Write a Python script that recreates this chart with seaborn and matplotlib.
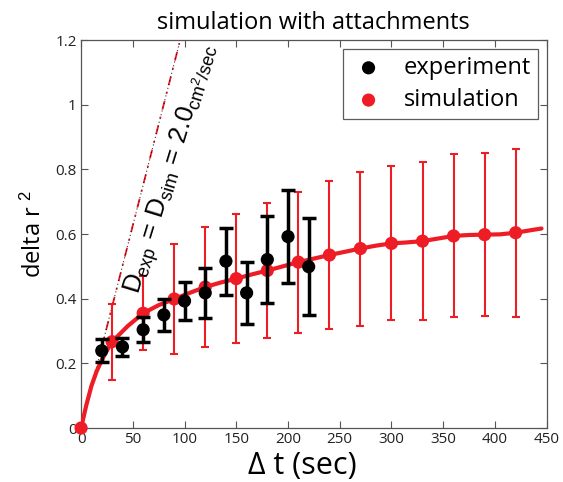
import numpy as np
import pandas as pd
import matplotlib
matplotlib.use("Agg")
import matplotlib.pyplot as plt
import seaborn as sns

# experiment
exp_t = [20, 40, 60, 80, 100, 120, 140, 160, 180, 200, 220]
exp_y = [0.239, 0.251, 0.304, 0.350, 0.393, 0.418, 0.516, 0.418, 0.521, 0.592, 0.499]
exp_err = [0.035, 0.028, 0.039, 0.050, 0.058, 0.077, 0.104, 0.096, 0.135, 0.145, 0.149]

# simulation markers
sim_t = [0, 30, 60, 90, 120, 150, 180, 210, 240, 270, 300, 330, 360, 390, 420]
sim_y = [0.0, 0.267, 0.355, 0.399, 0.436, 0.462, 0.487, 0.513, 0.535, 0.555, 0.571, 0.578, 0.594, 0.598, 0.604]
sim_err = [0.0, 0.117, 0.115, 0.171, 0.185, 0.199, 0.208, 0.218, 0.229, 0.238, 0.238, 0.245, 0.252, 0.253, 0.260]

# simulation curve
curve_t = [0, 5, 10, 15, 20, 25, 30, 45, 60, 75, 90, 105, 120, 135, 150, 165, 180, 195, 210,
           225, 240, 255, 270, 285, 300, 315, 330, 345, 360, 375, 390, 405, 420, 435, 445]
curve_y = [0.0, 0.07, 0.13, 0.175, 0.21, 0.24, 0.267, 0.315, 0.355, 0.38, 0.399, 0.418, 0.436,
           0.45, 0.462, 0.475, 0.487, 0.50, 0.513, 0.524, 0.535, 0.545, 0.555, 0.564, 0.571,
           0.574, 0.578, 0.586, 0.594, 0.597, 0.598, 0.599, 0.604, 0.612, 0.617]

# reference diffusion line
ref_t = [0, 95]
ref_y = [0.0, 1.19]

x_ticks = [0, 50, 100, 150, 200, 250, 300, 350, 400, 450]
y_ticks = [0, 0.2, 0.4, 0.6, 0.8, 1.0, 1.2]
y_ticklabels = ["0", "0.2", "0.4", "0.6", "0.8", "1", "1.2"]

sns.set_theme(style="white")
plt.rcParams['font.family'] = ['Open Sans', 'DejaVu Sans']
plt.rcParams['mathtext.fontset'] = 'custom'
plt.rcParams['mathtext.rm'] = 'Liberation Sans'
plt.rcParams['mathtext.it'] = 'Liberation Sans'
plt.rcParams['mathtext.sf'] = 'Liberation Sans'
plt.rcParams['text.color'] = 'black'
plt.rcParams['axes.labelcolor'] = 'black'
plt.rcParams['xtick.color'] = '#222222'
plt.rcParams['ytick.color'] = '#222222'

RED = "#ee1c24"
fig = plt.figure(figsize=(5.63, 4.82), dpi=100)
ax = fig.add_axes([0.144, 0.112, 0.827, 0.805])

curve_df = pd.DataFrame({"t": curve_t, "y": curve_y})
exp_df = pd.DataFrame({"t": exp_t, "y": exp_y})
sim_df = pd.DataFrame({"t": sim_t, "y": sim_y})

# reference lines (red dash-dot and black dotted)
ax.plot(ref_t, ref_y, color=RED, lw=1.3, ls=(0, (5, 4, 1, 4)), zorder=2)
ax.plot(ref_t, ref_y, color="black", lw=0.8, ls=(0, (1, 2.5)), zorder=2, alpha=0.8)

# simulation
ax.errorbar(sim_t, sim_y, yerr=sim_err, fmt="none", ecolor=RED, elinewidth=1.5,
            capsize=3, capthick=1.5, zorder=3)
sns.lineplot(data=curve_df, x="t", y="y", color=RED, lw=3, ax=ax, zorder=4)
sns.scatterplot(data=sim_df, x="t", y="y", color=RED, s=90, edgecolor="none", ax=ax,
                zorder=5, clip_on=False, label="simulation")

# experiment
ax.errorbar(exp_t, exp_y, yerr=exp_err, fmt="none", ecolor="black", elinewidth=2.5,
            capsize=5, capthick=2.5, zorder=6)
sns.scatterplot(data=exp_df, x="t", y="y", color="black", s=90, edgecolor="none", ax=ax,
                zorder=7, label="experiment")

ax.set_xlim(0, 450)
ax.set_ylim(0, 1.2)
ax.set_xticks(x_ticks)
ax.set_xticklabels([str(v) for v in x_ticks])
ax.set_yticks(y_ticks)
ax.set_yticklabels(y_ticklabels)
ax.tick_params(direction="in", length=5, width=0.8, color="#555555", labelsize=11,
               top=True, right=True, bottom=True, left=True, pad=3)
for s in ax.spines.values():
    s.set_color("#555555")
    s.set_linewidth(0.9)

ax.set_title("simulation with attachments", fontsize=17, pad=8)
ax.set_xlabel("Δ t (sec)", fontsize=22)
ax.xaxis.set_label_coords(0.475, -0.058)
ax.set_ylabel(r"delta r $^{2}$", fontsize=17, labelpad=6)

ax.text(88, 0.80, r"$\mathrm{D_{exp}\,{=}\,D_{sim}\,{=}\,2.0_{cm^{2}/sec}}$", fontsize=18.5,
        rotation=73, ha="center", va="center", zorder=8)

handles, labels = ax.get_legend_handles_labels()
order = [labels.index("experiment"), labels.index("simulation")]
leg = ax.legend([handles[i] for i in order], [labels[i] for i in order],
                loc="upper right", fontsize=17, frameon=True, fancybox=False,
                edgecolor="#333333", borderpad=0.3, handletextpad=0.7, handlelength=1.6,
                labelspacing=0.35, borderaxespad=0, bbox_to_anchor=(0.982, 0.977))
leg.get_frame().set_linewidth(0.9)

fig.savefig("out.png", dpi=100)
